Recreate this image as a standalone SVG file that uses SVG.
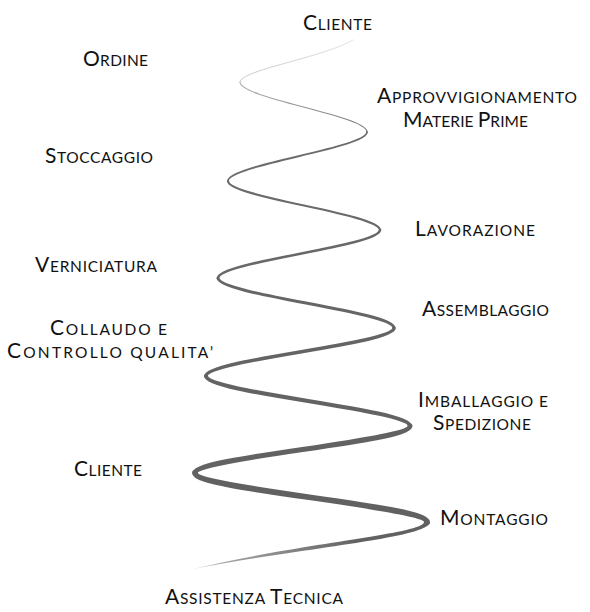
<svg xmlns="http://www.w3.org/2000/svg" width="590" height="612" viewBox="0 0 590 612">
  <style>
    .t { font-family: Lato, "Open Sans", "DejaVu Sans", sans-serif; font-size: 21px; fill: #111; }
    .s { font-size: 15.5px; }
    .c { fill: none; stroke-linecap: round; }
  </style>
  <defs>
    <linearGradient id="gTop" gradientUnits="userSpaceOnUse" x1="0" y1="40" x2="0" y2="135">
      <stop offset="0" stop-color="#dcdcdc"/>
      <stop offset="0.5" stop-color="#b0b0b0"/>
      <stop offset="1" stop-color="#6e6e6e"/>
    </linearGradient>
    <linearGradient id="gTail" gradientUnits="userSpaceOnUse" x1="193" y1="0" x2="360" y2="0">
      <stop offset="0" stop-color="#b5b5b5"/>
      <stop offset="1" stop-color="#616161"/>
    </linearGradient>
  </defs>
  <rect width="590" height="612" fill="#ffffff"/>

  <g id="spiral">
    <path class="c" d="M353,40 C322,58 240,70 240,82" stroke="url(#gTop)" stroke-width="0.8"/>
    <path class="c" d="M240,82 C240,98.5 367,115.5 367,132" stroke="url(#gTop)" stroke-width="1.2"/>
    <path class="c" d="M367,132 C367,148 228,165 228,181" stroke="#6c6c6c" stroke-width="1.8"/>
    <path class="c" d="M228,181 C228,197 380,214 380,230" stroke="#6a6a6a" stroke-width="2.2"/>
    <path class="c" d="M380,230 C380,246 218,262 218,278" stroke="#686868" stroke-width="2.6"/>
    <path class="c" d="M218,278 C218,294.5 394,311.5 394,328" stroke="#666666" stroke-width="3"/>
    <path class="c" d="M394,328 C394,344 206,360 206,376" stroke="#646464" stroke-width="3.5"/>
    <path class="c" d="M206,376 C206,392.5 410,409.5 410,426" stroke="#636363" stroke-width="4.2"/>
    <path class="c" d="M410,426 C410,441.5 195,457.5 195,473" stroke="#626262" stroke-width="5"/>
    <path class="c" d="M195,473 C195,489 427,506 427,522" stroke="#616161" stroke-width="5.8"/>
    <path d="M430,522 C430,538 300,548 193,569 C300,543 424,534 424,522 Z" fill="url(#gTail)"/>
  </g>

  <g id="label-cliente-top"><text class="t" x="303" y="30" textLength="69" lengthAdjust="spacing">C<tspan class="s">LIENTE</tspan></text></g>
  <g id="label-ordine"><text class="t" x="83" y="66" textLength="65" lengthAdjust="spacing">O<tspan class="s">RDINE</tspan></text></g>
  <g id="label-approvvigionamento">
    <text class="t" x="377" y="103" textLength="200" lengthAdjust="spacing">A<tspan class="s">PPROVVIGIONAMENTO</tspan></text>
    <text class="t" x="403" y="127" textLength="125" lengthAdjust="spacing">M<tspan class="s">ATERIE </tspan>P<tspan class="s">RIME</tspan></text>
  </g>
  <g id="label-stoccaggio"><text class="t" x="45" y="163" textLength="108" lengthAdjust="spacing">S<tspan class="s">TOCCAGGIO</tspan></text></g>
  <g id="label-lavorazione"><text class="t" x="415" y="236" textLength="120" lengthAdjust="spacing">L<tspan class="s">AVORAZIONE</tspan></text></g>
  <g id="label-verniciatura"><text class="t" x="35" y="272" textLength="122" lengthAdjust="spacing">V<tspan class="s">ERNICIATURA</tspan></text></g>
  <g id="label-assemblaggio"><text class="t" x="422" y="316" textLength="127" lengthAdjust="spacing">A<tspan class="s">SSEMBLAGGIO</tspan></text></g>
  <g id="label-collaudo">
    <text class="t" x="50" y="335" textLength="117" lengthAdjust="spacing">C<tspan class="s">OLLAUDO E</tspan></text>
    <text class="t" x="7" y="358" textLength="206" lengthAdjust="spacing">C<tspan class="s">ONTROLLO QUALITA’</tspan></text>
  </g>
  <g id="label-imballaggio">
    <text class="t" x="418" y="407" textLength="130" lengthAdjust="spacing">I<tspan class="s">MBALLAGGIO E</tspan></text>
    <text class="t" x="433" y="430" textLength="98" lengthAdjust="spacing">S<tspan class="s">PEDIZIONE</tspan></text>
  </g>
  <g id="label-cliente-left"><text class="t" x="74" y="476" textLength="68" lengthAdjust="spacing">C<tspan class="s">LIENTE</tspan></text></g>
  <g id="label-montaggio"><text class="t" x="440" y="525" textLength="108" lengthAdjust="spacing">M<tspan class="s">ONTAGGIO</tspan></text></g>
  <g id="label-assistenza"><text class="t" x="165" y="604" textLength="178" lengthAdjust="spacing">A<tspan class="s">SSISTENZA </tspan>T<tspan class="s">ECNICA</tspan></text></g>
</svg>
